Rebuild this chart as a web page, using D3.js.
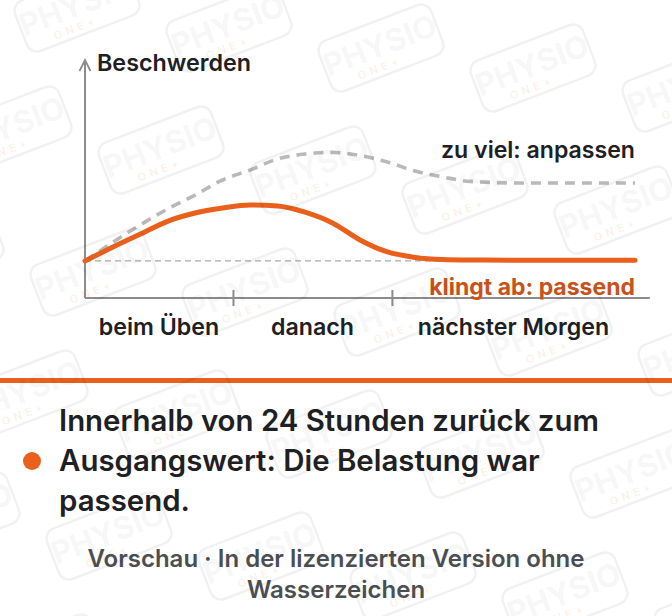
<!DOCTYPE html>
<html><head><meta charset="utf-8">
<script src="https://cdn.jsdelivr.net/npm/d3@7"></script>
<style>
html,body{margin:0;padding:0;background:#fff;}
svg{display:block;font-family:Inter,"Noto Sans",sans-serif;}
</style></head>
<body><svg id="c" width="672" height="616"></svg>
<script>
// ---- data ----
const xs = [0, 5, 10, 15, 20, 25, 30, 35, 40, 45, 50, 55, 60, 65, 70, 80, 90, 100];
const passend = [15.7, 21.5, 27, 32.5, 36, 38.1, 39.4, 39, 36.4, 31.8, 24.6, 19.5, 17.2, 16.3, 16.1, 16, 16, 16];
const zuViel = [15.7, 23.5, 30.9, 37.7, 43.6, 50, 54.2, 58.9, 61, 61.7, 60.4, 57.6, 53.8, 51.3, 49.4, 48.7, 48.7, 48.7];
const baseline = 15.7;
const phaseBounds = [0, 26.9, 55.8, 100];
const phaseLabels = ["beim Üben", "danach", "nächster Morgen"];
const yTitle = "Beschwerden";
const seriesLabels = ["zu viel: anpassen", "klingt ab: passend"];
const bulletLines = ["Innerhalb von 24 Stunden zurück zum", "Ausgangswert: Die Belastung war", "passend."];
const footerLines = ["Vorschau · In der lizenzierten Version ohne", "Wasserzeichen"];

const ORANGE = "#e8601c", ORANGE_TXT = "#c9521a", DARK = "#1e2023", AXIS = "#8c8c8c";
const svg = d3.select("#c");
const x = d3.scaleLinear().domain([0, 100]).range([85, 635]);
const y = d3.scaleLinear().domain([0, 100]).range([298, 62]);

// axes
const gx = svg.append("g").attr("transform", `translate(0,${y(0)})`)
  .call(d3.axisBottom(x).tickValues(phaseBounds.slice(1, -1)).tickSize(8).tickSizeOuter(0).tickFormat(""));
gx.select(".domain").attr("d", `M${x(0)},0H${x(102.7)}`).attr("stroke", AXIS).attr("stroke-width", 2);
gx.selectAll(".tick line").attr("y1", -8).attr("y2", 8).attr("stroke", AXIS).attr("stroke-width", 2);

const gy = svg.append("g").attr("transform", `translate(${x(0)},0)`)
  .call(d3.axisLeft(y).ticks(0).tickSizeOuter(0));
gy.select(".domain").attr("d", `M0,${y(0)}V${y(100) - 2}`).attr("stroke", AXIS).attr("stroke-width", 2);
svg.append("path").attr("d", `M${x(0) - 5.5},${y(100) + 9}L${x(0)},${y(100) - 2}L${x(0) + 5.5},${y(100) + 9}`)
  .attr("fill", "none").attr("stroke", AXIS).attr("stroke-width", 1.8);

svg.append("text").attr("x", 97).attr("y", 71).attr("fill", DARK)
  .attr("font-size", 23.3).attr("font-weight", 600).text(yTitle);

// baseline
svg.append("line").attr("x1", x(0)).attr("x2", x(100)).attr("y1", y(baseline)).attr("y2", y(baseline))
  .attr("stroke", "#a9a9a9").attr("stroke-width", 1.3).attr("stroke-dasharray", "6,4");

const line = d3.line().x((d, i) => x(xs[i])).y(d => y(d)).curve(d3.curveMonotoneX);
svg.append("path").datum(zuViel).attr("d", line).attr("fill", "none")
  .attr("stroke", "#b9b9b9").attr("stroke-width", 3.6).attr("stroke-dasharray", "10,7");
svg.append("path").datum(passend).attr("d", line).attr("fill", "none")
  .attr("stroke", ORANGE).attr("stroke-width", 5).attr("stroke-linecap", "round");

svg.append("text").attr("x", x(100)).attr("y", 158).attr("text-anchor", "end").attr("fill", DARK)
  .attr("font-size", 23.1).attr("font-weight", 600).text(seriesLabels[0]);
svg.append("text").attr("x", x(100)).attr("y", 295).attr("text-anchor", "end").attr("fill", ORANGE_TXT)
  .attr("font-size", 23).attr("font-weight", 700).text(seriesLabels[1]);

svg.selectAll(".phase").data(phaseLabels).join("text")
  .attr("x", (d, i) => (x(phaseBounds[i]) + x(phaseBounds[i + 1])) / 2).attr("y", 335)
  .attr("text-anchor", "middle").attr("fill", DARK).attr("font-size", 23.2).attr("font-weight", 600).text(d => d);

// separator
svg.append("rect").attr("x", 0).attr("y", 378).attr("width", 672).attr("height", 5).attr("fill", ORANGE);

// bullet
svg.append("circle").attr("cx", 32).attr("cy", 461).attr("r", 9).attr("fill", ORANGE);
svg.selectAll(".bl").data(bulletLines).join("text")
  .attr("x", 59).attr("y", (d, i) => 431 + i * 40).attr("fill", DARK)
  .attr("font-size", 29.4).attr("font-weight", 600).text(d => d);

svg.selectAll(".ft").data(footerLines).join("text")
  .attr("x", 336).attr("y", (d, i) => 567 + i * 31).attr("text-anchor", "middle").attr("fill", "#4b4e52")
  .attr("font-size", 24).attr("font-weight", 600).text(d => d);

// watermark tiles
const wm = svg.append("g").attr("pointer-events", "none");
const u = [152, 20], v = [-68, 122], o = [77, 8];
for (let r = -1; r < 6; r++) for (let c = -2; c < 7; c++) {
  const cx = o[0] + c * u[0] + r * v[0], cy = o[1] + c * u[1] + r * v[1];
  if (cx < -80 || cx > 760 || cy < -60 || cy > 680) continue;
  const g = wm.append("g").attr("transform", `translate(${cx},${cy}) rotate(-21)`);
  g.append("rect").attr("x", -60).attr("y", -27).attr("width", 120).attr("height", 54).attr("rx", 11)
    .attr("fill", "none").attr("stroke", "#000").attr("stroke-opacity", 0.055).attr("stroke-width", 2.5);
  g.append("text").attr("x", 0).attr("y", 8).attr("text-anchor", "middle").attr("font-size", 31)
    .attr("font-weight", 700).attr("fill", "#000").attr("fill-opacity", 0.055).text("PHYSIO");
  g.append("text").attr("x", -8).attr("y", 22).attr("text-anchor", "middle").attr("font-size", 11)
    .attr("letter-spacing", 4).attr("font-weight", 600).attr("fill", ORANGE).attr("fill-opacity", 0.11).text("ONE+");
}
</script></body></html>
